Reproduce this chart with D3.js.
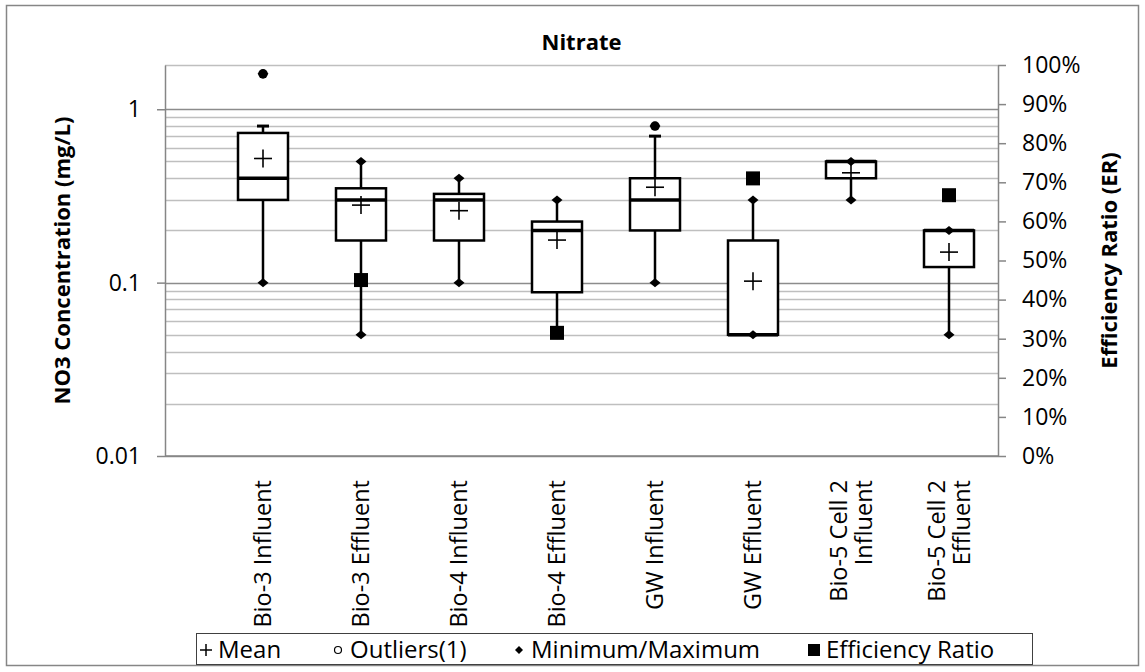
<!DOCTYPE html>
<html>
<head>
<meta charset="utf-8">
<script src="https://cdn.jsdelivr.net/npm/d3@7"></script>
<style>
  body { margin: 0; background: #fff; }
  text { font-family: "Open Sans", sans-serif; fill: #000; }
</style>
</head>
<body>
<div id="chart"></div>
<script>
// Data
var categories = ["Bio-3 Influent", "Bio-3 Effluent", "Bio-4 Influent", "Bio-4 Effluent",
                  "GW Influent", "GW Effluent", "Bio-5 Cell 2 Influent", "Bio-5 Cell 2 Effluent"];
var categoryLines = [["Bio-3 Influent"], ["Bio-3 Effluent"], ["Bio-4 Influent"], ["Bio-4 Effluent"],
                     ["GW Influent"], ["GW Effluent"], ["Bio-5 Cell 2", "Influent"], ["Bio-5 Cell 2", "Effluent"]];
var q1Values     = [0.30, 0.175, 0.175, 0.088, 0.20, 0.05, 0.40, 0.123];
var medianValues = [0.40, 0.30, 0.30, 0.20, 0.30, 0.05, 0.50, 0.20];
var q3Values     = [0.73, 0.35, 0.325, 0.225, 0.40, 0.175, 0.50, 0.20];
var meanValues   = [0.52, 0.28, 0.26, 0.176, 0.355, 0.102, 0.43, 0.15];
var minValues    = [0.10, 0.05, 0.10, 0.05, 0.10, 0.05, 0.30, 0.05];
var maxValues    = [1.60, 0.50, 0.40, 0.30, 0.80, 0.30, 0.50, 0.20];
var whiskerHigh  = [0.80, 0.50, 0.40, 0.30, 0.70, 0.30, 0.50, 0.20];
var outlierValues = [[1.6], [], [], [], [0.8], [], [], []];
var efficiencyRatio = [null, 0.45, null, 0.315, null, 0.71, null, 0.667];
var leftTickLabels = [0.01, 0.1, 1];

// Set up chart
var svgWidth = 1145;
var svgHeight = 672;
var margin = {top: 65, right: 147, bottom: 216, left: 165};
var width = svgWidth - margin.left - margin.right;
var height = svgHeight - margin.top - margin.bottom;

var svg = d3.select("#chart")
  .append("svg")
  .attr("width", svgWidth)
  .attr("height", svgHeight);

// outer chart border
svg.append("rect")
  .attr("x", 6.5).attr("y", 5.5)
  .attr("width", 1132).attr("height", 660)
  .attr("fill", "none")
  .attr("stroke", "#868686")
  .attr("stroke-width", 1.5);

var chart = svg.append("g")
  .attr("transform", `translate(${margin.left}, ${margin.top})`);

// scales
var step = width / 8.5;
var xScale = d3.scalePoint()
  .domain(categories)
  .range([step, width - step / 2]);

var yScale = d3.scaleLog()
  .domain([0.01, 1.8])
  .range([height, 0]);

var erScale = d3.scaleLinear()
  .domain([0, 1])
  .range([height, 0]);

// gridlines (log major + minor)
var gridTicks = yScale.ticks();
chart.append("g")
  .selectAll("line")
  .data(gridTicks)
  .enter()
  .append("line")
  .attr("x1", 0).attr("x2", width)
  .attr("y1", d => Math.round(yScale(d)) + 0.5)
  .attr("y2", d => Math.round(yScale(d)) + 0.5)
  .attr("stroke", d => (Math.abs(Math.log10(d) - Math.round(Math.log10(d))) < 1e-9) ? "#8c8c8c" : "#bfbfbf")
  .attr("stroke-width", 1.3);

// top border of plot area
chart.append("line")
  .attr("x1", 0).attr("x2", width)
  .attr("y1", 0.5).attr("y2", 0.5)
  .attr("stroke", "#bfbfbf")
  .attr("stroke-width", 1.3);

// left axis
var leftAxis = d3.axisLeft(yScale)
  .tickValues(leftTickLabels)
  .tickFormat(d3.format("~g"))
  .tickSizeInner(8)
  .tickSizeOuter(0)
  .tickPadding(16);
var gLeft = chart.append("g").call(leftAxis);
gLeft.select(".domain").attr("stroke", "#868686").attr("stroke-width", 1.5);
gLeft.selectAll(".tick line").attr("stroke", "#868686").attr("stroke-width", 1.5);
gLeft.selectAll(".tick text")
  .style("font-family", "'Open Sans', sans-serif")
  .style("font-size", "23px")
  .attr("fill", "#000");

// right axis
var rightAxis = d3.axisRight(erScale)
  .ticks(10)
  .tickFormat(d3.format(".0%"))
  .tickSizeInner(8)
  .tickSizeOuter(0)
  .tickPadding(16);
var gRight = chart.append("g")
  .attr("transform", `translate(${width}, 0)`)
  .call(rightAxis);
gRight.select(".domain").attr("stroke", "#868686").attr("stroke-width", 1.5);
gRight.selectAll(".tick line").attr("stroke", "#868686").attr("stroke-width", 1.5);
gRight.selectAll(".tick text")
  .style("font-family", "'Open Sans', sans-serif")
  .style("font-size", "23px")
  .attr("fill", "#000");

// bottom axis line
chart.append("line")
  .attr("x1", 0).attr("x2", width)
  .attr("y1", height).attr("y2", height)
  .attr("stroke", "#868686")
  .attr("stroke-width", 1.5);

var boxWidth = 50;
var idx = d3.range(categories.length);

// whiskers
var whiskers = chart.append("g");
whiskers.selectAll(".whisker-low")
  .data(idx)
  .enter()
  .append("line")
  .attr("x1", i => xScale(categories[i])).attr("x2", i => xScale(categories[i]))
  .attr("y1", i => yScale(q1Values[i]))
  .attr("y2", i => yScale(minValues[i]))
  .attr("stroke", "#000").attr("stroke-width", 2.5);
whiskers.selectAll(".whisker-high")
  .data(idx)
  .enter()
  .append("line")
  .attr("x1", i => xScale(categories[i])).attr("x2", i => xScale(categories[i]))
  .attr("y1", i => yScale(q3Values[i]))
  .attr("y2", i => yScale(whiskerHigh[i]))
  .attr("stroke", "#000").attr("stroke-width", 2.5);
// caps where the max is an outlier
whiskers.selectAll(".cap")
  .data(idx.filter(i => whiskerHigh[i] < maxValues[i]))
  .enter()
  .append("line")
  .attr("x1", i => xScale(categories[i]) - 6).attr("x2", i => xScale(categories[i]) + 6)
  .attr("y1", i => yScale(whiskerHigh[i])).attr("y2", i => yScale(whiskerHigh[i]))
  .attr("stroke", "#000").attr("stroke-width", 3);

// boxes
chart.selectAll(".box")
  .data(idx)
  .enter()
  .append("rect")
  .attr("x", i => xScale(categories[i]) - boxWidth / 2)
  .attr("y", i => yScale(q3Values[i]))
  .attr("width", boxWidth)
  .attr("height", i => yScale(q1Values[i]) - yScale(q3Values[i]))
  .attr("fill", "#fff")
  .attr("stroke", "#000")
  .attr("stroke-width", 2.5);

// medians
chart.selectAll(".median")
  .data(idx)
  .enter()
  .append("line")
  .attr("x1", i => xScale(categories[i]) - boxWidth / 2)
  .attr("x2", i => xScale(categories[i]) + boxWidth / 2)
  .attr("y1", i => yScale(medianValues[i]))
  .attr("y2", i => yScale(medianValues[i]))
  .attr("stroke", "#000")
  .attr("stroke-width", 3.5);

// min/max diamonds
var diamond = "M0,-4.5L5.5,0L0,4.5L-5.5,0Z";
var extremes = [];
idx.forEach(function(i) {
  extremes.push({cat: categories[i], v: minValues[i]});
  extremes.push({cat: categories[i], v: maxValues[i]});
});
chart.selectAll(".extreme")
  .data(extremes)
  .enter()
  .append("path")
  .attr("d", diamond)
  .attr("transform", d => `translate(${xScale(d.cat)}, ${yScale(d.v)})`)
  .attr("fill", "#000");

// means
var meanGroup = chart.selectAll(".mean")
  .data(idx)
  .enter()
  .append("g")
  .attr("transform", i => `translate(${xScale(categories[i])}, ${yScale(meanValues[i])})`);
meanGroup.append("line").attr("x1", -9).attr("x2", 9).attr("y1", 0).attr("y2", 0)
  .attr("stroke", "#000").attr("stroke-width", 1.6);
meanGroup.append("line").attr("x1", 0).attr("x2", 0).attr("y1", -9).attr("y2", 9)
  .attr("stroke", "#000").attr("stroke-width", 1.6);

// outliers
var outliers = [];
idx.forEach(function(i) {
  outlierValues[i].forEach(function(v) { outliers.push({cat: categories[i], v: v}); });
});
chart.selectAll(".outlier")
  .data(outliers)
  .enter()
  .append("circle")
  .attr("cx", d => xScale(d.cat))
  .attr("cy", d => yScale(d.v))
  .attr("r", 4.8)
  .attr("fill", "#000");

// efficiency ratio squares
chart.selectAll(".er")
  .data(idx.filter(i => efficiencyRatio[i] != null))
  .enter()
  .append("rect")
  .attr("x", i => xScale(categories[i]) - 7)
  .attr("y", i => erScale(efficiencyRatio[i]) - 7)
  .attr("width", 14)
  .attr("height", 14)
  .attr("fill", "#000");

// category labels
var labelTop = height + 24;
var labels = chart.selectAll(".cat-label")
  .data(idx)
  .enter()
  .append("text")
  .attr("transform", i => `translate(${xScale(categories[i])}, ${labelTop}) rotate(-90)`)
  .attr("text-anchor", "end")
  .style("font-size", "23.5px");
labels.selectAll("tspan")
  .data(i => categoryLines[i].map((t, k, arr) => ({t: t, k: k, n: arr.length})))
  .enter()
  .append("tspan")
  .attr("x", 0)
  .attr("y", d => (d.k - (d.n - 1) / 2) * 25)
  .attr("dy", "0.35em")
  .text(d => d.t);

// title
svg.append("text")
  .attr("x", margin.left + width / 2)
  .attr("y", 50)
  .attr("text-anchor", "middle")
  .style("font-size", "22px")
  .style("font-weight", "bold")
  .text("Nitrate");

// axis titles
svg.append("text")
  .attr("transform", `translate(62, ${margin.top + height / 2}) rotate(-90)`)
  .attr("text-anchor", "middle")
  .attr("dy", "0.35em")
  .style("font-size", "22px")
  .style("font-weight", "bold")
  .text("NO3 Concentration (mg/L)");

svg.append("text")
  .attr("transform", `translate(1109, ${margin.top + height / 2}) rotate(-90)`)
  .attr("text-anchor", "middle")
  .attr("dy", "0.35em")
  .style("font-size", "22px")
  .style("font-weight", "bold")
  .text("Efficiency Ratio (ER)");

// legend
var legend = svg.append("g");
legend.append("rect")
  .attr("x", 196.5).attr("y", 633.5)
  .attr("width", 836).attr("height", 31)
  .attr("fill", "#fff")
  .attr("stroke", "#404040")
  .attr("stroke-width", 1);

var legendItems = ["Mean", "Outliers(1)", "Minimum/Maximum", "Efficiency Ratio"];
var legendX = [206, 338, 519, 814];
var ly = 650;
// mean symbol
legend.append("line").attr("x1", legendX[0] - 6).attr("x2", legendX[0] + 6).attr("y1", ly).attr("y2", ly)
  .attr("stroke", "#000").attr("stroke-width", 1.5);
legend.append("line").attr("x1", legendX[0]).attr("x2", legendX[0]).attr("y1", ly - 6).attr("y2", ly + 6)
  .attr("stroke", "#000").attr("stroke-width", 1.5);
// outlier symbol
legend.append("circle").attr("cx", legendX[1]).attr("cy", ly).attr("r", 3.5)
  .attr("fill", "#fff").attr("stroke", "#000").attr("stroke-width", 1.2);
// min/max symbol
legend.append("path").attr("d", "M0,-4L4,0L0,4L-4,0Z")
  .attr("transform", `translate(${legendX[2]}, ${ly})`).attr("fill", "#000");
// ER symbol
legend.append("rect").attr("x", legendX[3] - 6).attr("y", ly - 6).attr("width", 12).attr("height", 12)
  .attr("fill", "#000");

legend.selectAll(".legend-text")
  .data(legendItems)
  .enter()
  .append("text")
  .attr("x", (d, i) => legendX[i] + 12)
  .attr("y", 658)
  .style("font-size", "24px")
  .text(d => d);
</script>
</body>
</html>
